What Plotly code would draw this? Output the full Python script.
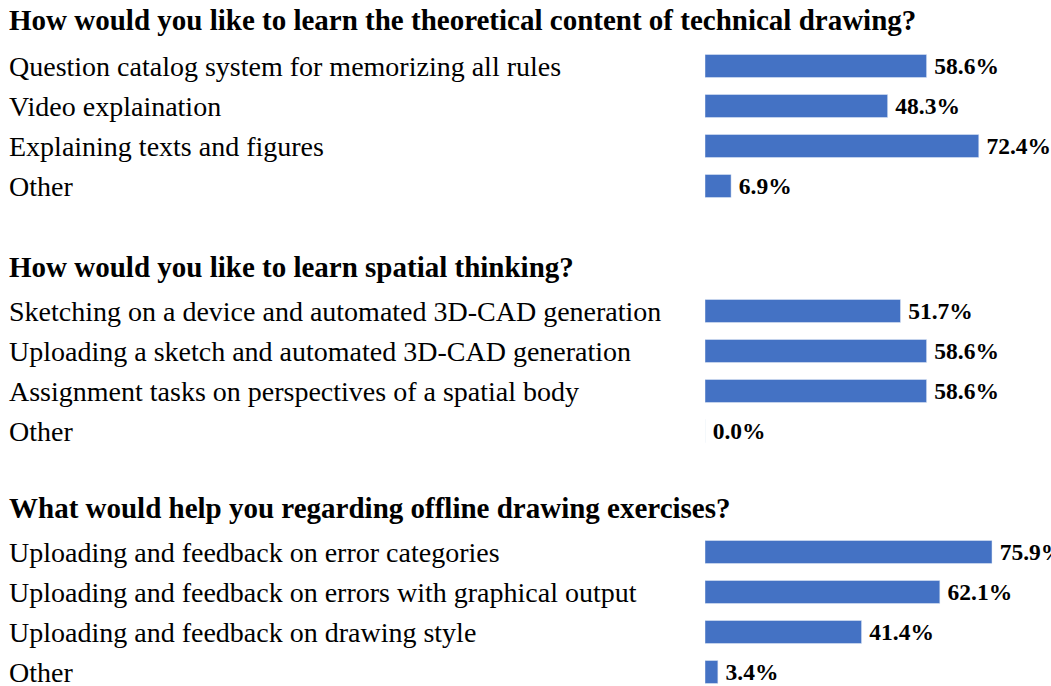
import plotly.graph_objects as go

W, H = 1051, 686

titles = [
    "How would you like to learn the theoretical content of technical drawing?",
    "How would you like to learn spatial thinking?",
    "What would help you regarding offline drawing exercises?",
]
cats1 = ["Question catalog system for memorizing all rules", "Video explaination",
         "Explaining texts and figures", "Other"]
vals1 = [58.6, 48.3, 72.4, 6.9]
cats2 = ["Sketching on a device and automated 3D-CAD generation",
         "Uploading a sketch and automated 3D-CAD generation",
         "Assignment tasks on perspectives of a spatial body", "Other"]
vals2 = [51.7, 58.6, 58.6, 0.0]
cats3 = ["Uploading and feedback on error categories",
         "Uploading and feedback on errors with graphical output",
         "Uploading and feedback on drawing style", "Other"]
vals3 = [75.9, 62.1, 41.4, 3.4]

groups = [(cats1, vals1), (cats2, vals2), (cats3, vals3)]

FONT = "Liberation Serif"
BAR = "#4472C4"

# pixel layout (top, bottom) of each group's rows, and title centre
row_px = [(46, 206), (291, 451), (532, 686)]
title_px = [20, 267, 508]
x0_px = 705
xmax = 91.5

fig = go.Figure()
layout = dict(
    width=W, height=H, margin=dict(l=0, r=0, t=0, b=0),
    paper_bgcolor="white", plot_bgcolor="white", showlegend=False,
    bargap=0.425, annotations=[],
)

for i, (cats, vals) in enumerate(groups):
    n = i + 1
    xa = "x" if n == 1 else f"x{n}"
    ya = "y" if n == 1 else f"y{n}"
    fig.add_trace(go.Bar(
        x=vals, y=cats, orientation="h", marker_color=BAR,
        xaxis=xa, yaxis=ya,
        text=[f"\u2009{v:.1f}%" for v in vals], textposition="outside",
        textfont=dict(family=FONT, size=23.5, color="black", weight="bold"),
        texttemplate="%{text}", constraintext="none", cliponaxis=False,
        hoverinfo="skip",
    ))
    top, bot = row_px[i]
    nrows = (bot - top) / 40.0
    layout[f"xaxis{n if n > 1 else ''}"] = dict(
        domain=[x0_px / W, 1.0], range=[0, xmax], visible=False, anchor=ya,
    )
    layout[f"yaxis{n if n > 1 else ''}"] = dict(
        domain=[1 - bot / H, 1 - top / H], type="category",
        range=[nrows - 0.5, -0.5], visible=False, anchor=xa,
    )
    layout["annotations"].append(dict(
        text=f"<b>{titles[i]}</b>", xref="paper", yref="paper",
        x=7 / W, y=1 - title_px[i] / H, xanchor="left", yanchor="middle",
        showarrow=False, font=dict(family=FONT, size=29, color="black"),
    ))
    for c in cats:
        layout["annotations"].append(dict(
            text=c, xref="paper", yref=ya, x=7 / W, y=c,
            xanchor="left", yanchor="middle", showarrow=False,
            font=dict(family=FONT, size=28, color="black"),
        ))

fig.update_layout(**layout)
fig.write_html("out.html")
